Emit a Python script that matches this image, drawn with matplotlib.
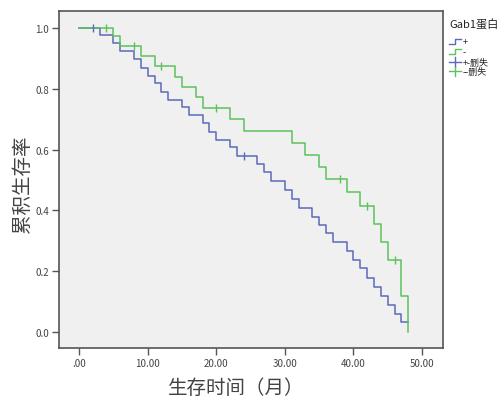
import numpy as np
import matplotlib
matplotlib.use("Agg")
import matplotlib.pyplot as plt

plt.rcParams['font.family'] = ['Noto Sans CJK SC', 'DejaVu Sans']

# Kaplan-Meier curves (time in months, survival)
pos_t = [0, 3, 5, 6, 8, 9, 10, 11, 12, 13, 15, 16, 18, 19, 20, 22, 23, 26, 27, 28,
         30, 31, 32, 34, 35, 36, 37, 39, 40, 41, 42, 43, 44, 45, 46, 47, 48]
pos_s = [1.0, 0.978, 0.951, 0.924, 0.899, 0.871, 0.844, 0.819, 0.791, 0.764, 0.740,
         0.714, 0.687, 0.659, 0.633, 0.608, 0.580, 0.552, 0.525, 0.498, 0.467, 0.437,
         0.407, 0.379, 0.352, 0.324, 0.295, 0.267, 0.236, 0.209, 0.176, 0.148, 0.119,
         0.089, 0.059, 0.031, 0.031]
pos_cens_t = [2, 24]
pos_cens_s = [1.0, 0.580]

neg_t = [0, 5, 6, 9, 11, 14, 15, 17, 18, 22, 24, 31, 33, 35, 36, 39, 41, 43, 44, 45, 47, 48]
neg_s = [1.0, 0.976, 0.943, 0.910, 0.877, 0.840, 0.807, 0.773, 0.736, 0.700, 0.663,
         0.622, 0.582, 0.542, 0.503, 0.459, 0.413, 0.355, 0.297, 0.237, 0.119, 0.0]
neg_cens_t = [4, 8, 12, 20, 38, 42, 46]
neg_cens_s = [1.0, 0.943, 0.877, 0.736, 0.503, 0.413, 0.237]

x_ticks = [0, 10, 20, 30, 40, 50]
x_labels = ['.00', '10.00', '20.00', '30.00', '40.00', '50.00']
y_ticks = [0.0, 0.2, 0.4, 0.6, 0.8, 1.0]
y_labels = ['0.0', '0.2', '0.4', '0.6', '0.8', '1.0']

blue = '#5a69b8'
green = '#5cc25c'
frame = '#555555'

fig = plt.figure(figsize=(5.01, 4.02), dpi=100)
ax = fig.add_axes([0.1178, 0.1318, 0.7665, 0.838])
ax.set_facecolor('#f0f0f0')

ax.step(pos_t, pos_s, where='post', color=blue, lw=1.1)
ax.step(neg_t, neg_s, where='post', color=green, lw=1.1)
ax.plot(pos_cens_t, pos_cens_s, ls='none', marker='|', ms=6, mew=1.0, color=blue)
ax.plot(neg_cens_t, neg_cens_s, ls='none', marker='|', ms=6, mew=1.0, color=green)

ax.set_xlim(-2.92, 53.06)
ax.set_ylim(-0.054, 1.057)
ax.set_xticks(x_ticks)
ax.set_xticklabels(x_labels)
ax.set_yticks(y_ticks)
ax.set_yticklabels(y_labels)
ax.tick_params(direction='out', length=5, width=1, color=frame, labelsize=7, labelcolor='#444444', pad=2)
for sp in ax.spines.values():
    sp.set_color(frame)
    sp.set_linewidth(1.2)

ax.set_xlabel('生存时间（月）', fontsize=14, color='#444444', fontweight='light')
ax.set_ylabel('累积生存率', fontsize=14, color='#444444', fontweight='light')
ax.xaxis.set_label_coords(0.46, -0.085)
ax.yaxis.set_label_coords(-0.068, 0.49)

# legend drawn beside the frame
fig.text(0.896, 0.938, 'Gab1蛋白', fontsize=8, color='#222222', va='center')
items = [('+', blue, 'step'), ('-', green, 'step'), ('+-删失', blue, 'cens'), ('--删失', green, 'cens')]
ys = [0.895, 0.870, 0.843, 0.820]
for (lab, col, kind), yy in zip(items, ys):
    x0, x1 = 0.896, 0.920
    if kind == 'step':
        fig.add_artist(plt.Line2D([x0, 0.908, 0.908, x1], [yy - 0.006, yy - 0.006, yy + 0.006, yy + 0.006],
                                  color=col, lw=1.0))
    else:
        fig.add_artist(plt.Line2D([x0, x1], [yy, yy], color=col, lw=1.0))
        fig.add_artist(plt.Line2D([0.908, 0.908], [yy - 0.012, yy + 0.012], color=col, lw=1.0))
    fig.text(x1 + 0.003, yy, lab, fontsize=6.5, color='#222222', va='center')

fig.savefig('out.png', dpi=100, facecolor='white')
